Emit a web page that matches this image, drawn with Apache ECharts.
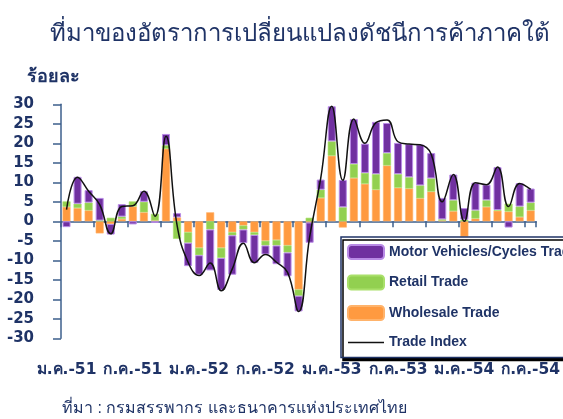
<!DOCTYPE html>
<html>
<head>
<meta charset="utf-8">
<script src="https://cdn.jsdelivr.net/npm/echarts@6/dist/echarts.min.js"></script>
<style>
html,body{margin:0;padding:0;background:#fff;}
#c{width:563px;height:419px;}
</style>
</head>
<body>
<div id="c"></div>
<script>
const categories = [
 'ม.ค.-51','ก.พ.-51','มี.ค.-51','เม.ย.-51','พ.ค.-51','มิ.ย.-51','ก.ค.-51','ส.ค.-51','ก.ย.-51','ต.ค.-51','พ.ย.-51','ธ.ค.-51',
 'ม.ค.-52','ก.พ.-52','มี.ค.-52','เม.ย.-52','พ.ค.-52','มิ.ย.-52','ก.ค.-52','ส.ค.-52','ก.ย.-52','ต.ค.-52','พ.ย.-52','ธ.ค.-52',
 'ม.ค.-53','ก.พ.-53','มี.ค.-53','เม.ย.-53','พ.ค.-53','มิ.ย.-53','ก.ค.-53','ส.ค.-53','ก.ย.-53','ต.ค.-53','พ.ย.-53','ธ.ค.-53',
 'ม.ค.-54','ก.พ.-54','มี.ค.-54','เม.ย.-54','พ.ค.-54','มิ.ย.-54','ก.ค.-54'
];
const wholesale = [3.7,3.4,2.8,-3.1,-0.7,0.6,3.8,2.3,0.2,18.6,1.0,-2.8,-6.8,2.3,-6.8,-2.8,-1.1,-2.8,-5.0,-4.8,-6.2,-17.5,-0.3,6.0,16.8,-1.6,11.1,9.6,8.1,14.3,8.6,8.4,5.9,7.6,0.2,2.6,-3.9,0.7,3.7,2.7,2.5,1.1,2.8];
const retail = [1.4,1.1,2.0,0.2,0.9,0.6,1.3,2.7,1.7,0.9,-4.5,-2.7,-1.9,-2.1,-2.6,-0.8,-1.0,-0.7,-1.2,-1.4,-1.8,-1.6,0.9,2.1,3.7,3.6,3.6,2.8,4.0,3.2,3.5,2.9,3.3,3.4,0.3,2.8,0.4,2.1,1.7,0.2,2.0,2.7,2.0];
const motor = [-1.5,6.9,3.2,5.8,-2.7,3.2,-0.8,2.7,-0.4,2.9,1.1,-6.0,-5.0,-10.5,-8.2,-10.1,-3.5,-7.2,-2.3,-4.8,-6.1,-4.0,-5.2,2.6,9.0,7.0,11.5,7.5,13.4,7.7,8.0,8.5,10.5,6.5,5.5,6.6,3.0,7.1,4.0,11.0,-1.6,6.0,3.6];
const tradeIndex = [3.0,11.3,7.7,4.3,-3.2,3.8,4.0,7.7,1.3,21.8,-1.0,-10.5,-13.9,-10.7,-17.8,-12.2,-5.6,-10.6,-8.5,-10.5,-13.1,-23.1,-4.0,11.0,29.5,10.5,26.2,20.0,25.3,26.0,20.4,19.8,19.6,17.2,5.0,12.0,0.0,9.9,9.4,13.9,3.8,9.7,8.2];
const yTicks = {min:-30, max:30, interval:5};
const names = ['Motor Vehicles/Cycles Trade','Retail Trade','Wholesale Trade','Trade Index'];

const navy = '#1f3366';
const axisCol = '#3d5f8c';
const fontF = '"Liberation Sans", Arial, "Noto Sans", sans-serif';
const fontD = '"DejaVu Sans", "Noto Sans", sans-serif';

const chart = echarts.init(document.getElementById('c'), null, {renderer:'canvas'});
chart.setOption({
  animation:false,
  backgroundColor:'#fff',
  title:{
    text:'ที่มาของอัตราการเปลี่ยนแปลงดัชนีการค้าภาคใต้',
    left:50, top:22, padding:0,
    textStyle:{fontSize:24, fontWeight:'normal', color:navy, fontFamily:fontF}
  },
  graphic:[
    {type:'text', left:27, top:68, style:{text:'ร้อยละ', fontSize:18, fontWeight:'bold', fill:navy, fontFamily:fontD}},
    {type:'text', left:62, top:401, style:{text:'ที่มา : กรมสรรพากร และธนาคารแห่งประเทศไทย', fontSize:16, fill:navy, fontFamily:fontF}}
  ],
  legend:{
    orient:'vertical', left:341, top:237,
    data:[
      {name:names[0]},{name:names[1]},{name:names[2]},
      {name:names[3], icon:'path://M0,0L36,0L36,1.6L0,1.6Z', itemStyle:{color:'#111', borderWidth:0}}
    ],
    itemWidth:36, itemHeight:14, itemGap:14.5,
    padding:[7,6,8,6],
    backgroundColor:'#fff',
    borderColor:navy, borderWidth:1.5, borderRadius:0,
    shadowColor:'#000', shadowOffsetX:2, shadowOffsetY:3, shadowBlur:0,
    textStyle:{fontSize:14, fontWeight:'bold', color:navy, fontFamily:fontF},
    selectedMode:false
  },
  grid:{left:61, right:20.4, top:104.3, bottom:80.7, containLabel:false},
  xAxis:[{
    type:'category', data:categories, boundaryGap:true,
    axisLine:{show:true, onZero:true, lineStyle:{color:axisCol, width:1.5}},
    axisTick:{show:true, interval:2, length:6, lineStyle:{color:axisCol, width:1.5}},
    axisLabel:{show:false},
    splitLine:{show:false}
  },{
    type:'category', data:categories, boundaryGap:true, position:'bottom',
    axisLine:{show:false, onZero:false}, axisTick:{show:false},
    axisLabel:{show:true, interval:5, margin:24, fontSize:15.5, fontWeight:'bold', color:navy, fontFamily:fontD},
    splitLine:{show:false}
  }],
  yAxis:{
    type:'value', min:yTicks.min, max:yTicks.max, interval:yTicks.interval,
    axisLine:{show:true, lineStyle:{color:axisCol, width:1.5}},
    axisTick:{show:true, length:8, lineStyle:{color:axisCol, width:1.5}},
    axisLabel:{margin:27, fontSize:15, fontWeight:'bold', color:navy, fontFamily:fontD},
    splitLine:{show:false}
  },
  series:[
    {name:names[2], type:'bar', stack:'t', data:wholesale, barWidth:8,
     itemStyle:{color:'#ff9a40', borderColor:'#ffb36b', borderWidth:0.6}},
    {name:names[1], type:'bar', stack:'t', data:retail, barWidth:8,
     itemStyle:{color:'#92d050', borderColor:'#a9e06a', borderWidth:0.6}},
    {name:names[0], type:'bar', stack:'t', data:motor, barWidth:8,
     itemStyle:{color:'#7030a0', borderColor:'#b98be6', borderWidth:1}},
    {name:names[3], type:'line', data:tradeIndex, smooth:0.45, symbol:'none',
     lineStyle:{color:'#111', width:1.5}, itemStyle:{color:'#111'}, z:5}
  ]
});
</script>
</body>
</html>
